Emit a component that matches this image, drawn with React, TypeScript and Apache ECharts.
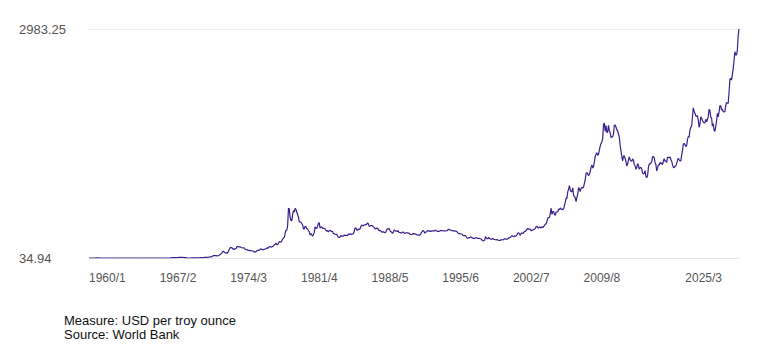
import React, { useEffect, useRef } from "react";
import * as echarts from "echarts";

// Monthly gold price, USD per troy ounce (World Bank), 1960/1 .. 2025/3
const START_YEAR = 1960;
const goldPrice: number[] = [
  // 1960
  35.09, 35.08, 35.1, 35.11, 35.11, 35.12, 35.15, 35.23, 35.67, 37.5, 36.45, 35.72,
  // 1961
  35.33, 35.24, 35.18, 35.1, 35.07, 35.1, 35.11, 35.15, 35.14, 35.1, 35.1, 35.08,
  // 1962
  35.08, 35.1, 35.12, 35.13, 35.14, 35.1, 35.08, 35.08, 35.1, 35.2, 35.18, 35.12,
  // 1963
  35.07, 35.07, 35.08, 35.08, 35.08, 35.08, 35.09, 35.09, 35.08, 35.08, 35.08, 35.09,
  // 1964
  35.09, 35.08, 35.09, 35.1, 35.1, 35.09, 35.1, 35.09, 35.1, 35.1, 35.12, 35.16,
  // 1965
  35.13, 35.15, 35.18, 35.17, 35.12, 35.11, 35.11, 35.15, 35.12, 35.11, 35.14, 35.14,
  // 1966
  35.12, 35.11, 35.11, 35.13, 35.16, 35.18, 35.17, 35.16, 35.16, 35.16, 35.16, 35.17,
  // 1967
  35.13, 35.12, 35.1, 35.11, 35.13, 35.17, 35.16, 35.17, 35.16, 35.19, 35.2, 35.19,
  // 1968
  35.2, 35.21, 38.0, 37.7, 41.0, 41.1, 39.5, 39.3, 39.6, 39.5, 40.0, 41.1,
  // 1969
  42.4, 42.6, 43.2, 43.3, 43.5, 41.4, 41.8, 41.0, 40.9, 40.4, 37.4, 35.2,
  // 1970
  34.94, 35.0, 35.1, 35.9, 35.5, 35.4, 35.3, 35.4, 36.2, 37.5, 37.4, 37.4,
  // 1971
  37.9, 38.7, 38.9, 39.0, 40.5, 40.1, 41.0, 42.7, 42.0, 42.5, 42.9, 43.6,
  // 1972
  45.8, 48.3, 48.3, 49.0, 54.6, 62.1, 65.7, 67.0, 65.5, 64.9, 62.9, 63.9,
  // 1973
  65.1, 74.2, 84.4, 90.5, 102.0, 120.1, 120.2, 106.8, 103.0, 100.1, 94.8, 106.7,
  // 1974
  129.2, 150.2, 168.4, 172.2, 163.3, 154.1, 142.9, 154.6, 151.8, 158.8, 181.7, 183.9,
  // 1975
  176.3, 179.6, 178.2, 170.0, 167.0, 164.2, 165.2, 163.1, 144.1, 142.8, 142.8, 139.3,
  // 1976
  131.6, 131.0, 132.6, 128.1, 126.6, 125.4, 117.6, 109.9, 114.0, 116.0, 130.0, 133.4,
  // 1977
  132.3, 136.4, 148.3, 149.2, 146.9, 141.0, 143.4, 144.9, 149.9, 158.6, 162.6, 160.5,
  // 1978
  173.2, 178.2, 183.7, 175.1, 176.3, 183.7, 188.8, 206.0, 212.9, 227.3, 206.0, 207.8,
  // 1979
  227.3, 245.7, 242.0, 239.2, 257.6, 279.1, 294.4, 300.8, 355.1, 391.7, 392.5, 455.1,
  // 1980
  675.3, 665.3, 554.0, 517.4, 513.8, 600.7, 644.3, 627.2, 674.6, 661.2, 623.5, 594.9,
  // 1981
  557.0, 500.0, 498.0, 495.0, 480.0, 460.0, 409.0, 410.0, 443.0, 437.0, 413.0, 410.0,
  // 1982
  384.0, 374.0, 330.0, 350.0, 334.0, 315.0, 339.0, 364.0, 435.0, 422.0, 415.0, 444.0,
  // 1983
  481.0, 491.0, 420.0, 432.0, 438.0, 413.0, 422.0, 416.0, 412.0, 394.0, 382.0, 388.0,
  // 1984
  370.0, 386.0, 394.0, 381.0, 377.0, 378.0, 348.0, 348.0, 341.0, 340.0, 341.0, 320.0,
  // 1985
  303.0, 299.0, 304.0, 325.0, 316.0, 317.0, 317.0, 329.0, 324.0, 326.0, 325.0, 321.0,
  // 1986
  345.0, 339.0, 346.0, 340.0, 342.0, 343.0, 348.0, 376.0, 418.0, 423.0, 398.0, 391.0,
  // 1987
  408.0, 401.0, 409.0, 438.0, 460.0, 450.0, 450.0, 461.0, 460.0, 465.0, 468.0, 487.0,
  // 1988
  477.0, 442.0, 444.0, 452.0, 451.0, 451.0, 437.0, 431.0, 413.0, 407.0, 420.0, 419.0,
  // 1989
  404.0, 388.0, 390.0, 385.0, 371.0, 367.0, 375.0, 365.0, 362.0, 367.0, 394.0, 409.0,
  // 1990
  410.0, 416.0, 393.0, 374.0, 369.0, 352.0, 362.0, 395.0, 389.0, 381.0, 381.0, 378.0,
  // 1991
  384.0, 364.0, 363.0, 358.0, 357.0, 367.0, 368.0, 356.0, 349.0, 359.0, 360.0, 361.0,
  // 1992
  354.0, 354.0, 345.0, 338.0, 337.0, 341.0, 353.0, 343.0, 345.0, 344.0, 335.0, 334.0,
  // 1993
  329.0, 330.0, 330.0, 342.0, 367.0, 372.0, 392.0, 378.0, 355.0, 364.0, 374.0, 383.0,
  // 1994
  387.0, 382.0, 384.0, 378.0, 381.0, 386.0, 385.0, 380.0, 392.0, 390.0, 384.0, 379.0,
  // 1995
  379.0, 377.0, 382.0, 391.0, 385.0, 387.0, 386.0, 383.0, 383.0, 383.0, 386.0, 387.0,
  // 1996
  400.0, 405.0, 396.0, 393.0, 392.0, 385.0, 383.0, 387.0, 383.0, 381.0, 378.0, 369.0,
  // 1997
  355.0, 347.0, 352.0, 344.0, 344.0, 341.0, 324.0, 324.0, 323.0, 325.0, 306.0, 289.0,
  // 1998
  289.0, 297.0, 296.0, 308.0, 299.0, 292.0, 293.0, 284.0, 289.0, 296.0, 294.0, 291.0,
  // 1999
  287.0, 287.0, 286.0, 282.0, 277.0, 261.0, 256.0, 257.0, 265.0, 311.0, 293.0, 283.0,
  // 2000
  284.0, 300.0, 286.0, 280.0, 275.0, 285.0, 282.0, 275.0, 273.0, 270.0, 266.0, 272.0,
  // 2001
  266.0, 262.0, 263.0, 261.0, 272.0, 270.0, 268.0, 273.0, 283.0, 283.0, 276.0, 275.0,
  // 2002
  282.0, 296.0, 294.0, 302.0, 314.0, 322.0, 314.0, 310.0, 319.0, 317.0, 319.0, 333.0,
  // 2003
  357.0, 359.0, 340.0, 328.0, 355.0, 356.0, 351.0, 360.0, 379.0, 379.0, 390.0, 407.0,
  // 2004
  414.0, 405.0, 406.0, 404.0, 384.0, 392.0, 398.0, 400.0, 406.0, 420.0, 439.0, 442.0,
  // 2005
  424.0, 423.0, 434.0, 429.0, 423.0, 437.0, 425.0, 438.0, 456.0, 470.0, 476.0, 510.0,
  // 2006
  549.0, 555.0, 557.0, 610.0, 676.0, 596.0, 633.0, 632.0, 598.0, 585.0, 627.0, 629.0,
  // 2007
  631.0, 665.0, 655.0, 679.0, 667.0, 655.0, 665.0, 665.0, 712.0, 754.0, 806.0, 803.0,
  // 2008
  889.0, 922.0, 968.0, 909.0, 888.0, 889.0, 939.0, 839.0, 829.0, 806.0, 760.0, 816.0,
  // 2009
  858.0, 943.0, 924.0, 890.0, 928.0, 946.0, 934.0, 949.0, 996.0, 1043.0, 1127.0, 1134.0,
  // 2010
  1118.0, 1095.0, 1113.0, 1148.0, 1205.0, 1232.0, 1193.0, 1215.0, 1271.0, 1343.0, 1370.0, 1391.0,
  // 2011
  1356.0, 1372.0, 1424.0, 1474.0, 1510.0, 1529.0, 1572.0, 1756.0, 1772.0, 1666.0, 1739.0, 1652.0,
  // 2012
  1656.0, 1742.0, 1674.0, 1650.0, 1585.0, 1596.0, 1594.0, 1630.0, 1744.0, 1747.0, 1721.0, 1688.0,
  // 2013
  1671.0, 1628.0, 1593.0, 1487.0, 1414.0, 1343.0, 1286.0, 1347.0, 1349.0, 1316.0, 1275.0, 1221.0,
  // 2014
  1244.0, 1300.0, 1336.0, 1299.0, 1287.0, 1279.0, 1311.0, 1296.0, 1239.0, 1222.0, 1176.0, 1200.0,
  // 2015
  1251.0, 1227.0, 1179.0, 1198.0, 1199.0, 1181.0, 1128.0, 1117.0, 1125.0, 1159.0, 1086.0, 1068.0,
  // 2016
  1097.0, 1199.0, 1246.0, 1242.0, 1260.0, 1276.0, 1337.0, 1341.0, 1326.0, 1266.0, 1238.0, 1157.0,
  // 2017
  1192.0, 1234.0, 1231.0, 1266.0, 1246.0, 1260.0, 1237.0, 1283.0, 1314.0, 1280.0, 1283.0, 1265.0,
  // 2018
  1331.0, 1331.0, 1325.0, 1335.0, 1303.0, 1282.0, 1238.0, 1202.0, 1198.0, 1215.0, 1221.0, 1250.0,
  // 2019
  1291.0, 1320.0, 1300.0, 1286.0, 1284.0, 1359.0, 1413.0, 1500.0, 1510.0, 1495.0, 1471.0, 1480.0,
  // 2020
  1560.0, 1597.0, 1592.0, 1683.0, 1716.0, 1732.0, 1847.0, 1968.0, 1922.0, 1900.0, 1866.0, 1858.0,
  // 2021
  1867.0, 1808.0, 1718.0, 1760.0, 1851.0, 1834.0, 1807.0, 1785.0, 1775.0, 1777.0, 1821.0, 1790.0,
  // 2022
  1817.0, 1856.0, 1948.0, 1937.0, 1849.0, 1837.0, 1733.0, 1765.0, 1681.0, 1664.0, 1726.0, 1798.0,
  // 2023
  1898.0, 1853.0, 1912.0, 1999.0, 1992.0, 1943.0, 1951.0, 1918.0, 1916.0, 1918.0, 1993.0, 2034.0,
  // 2024
  2033.0, 2024.0, 2160.0, 2331.0, 2349.0, 2326.0, 2399.0, 2471.0, 2571.0, 2691.0, 2651.0, 2648.0,
  // 2025
  2709.0, 2895.0, 2983.25,
];

// Category labels "YYYY/M", one per month
const months: string[] = goldPrice.map((_, i) => `${START_YEAR + Math.floor(i / 12)}/${(i % 12) + 1}`);
// Indices of labelled ticks on the bottom axis
const shownLabelIdx: number[] = [0, 85, 170, 255, 340, 425, 510, 595];

const measureText = "Measure: USD per troy ounce";
const sourceText = "Source: World Bank";

const FONT = "Arial, 'Liberation Sans', sans-serif";

export default function App() {
  const ref = useRef<HTMLDivElement>(null);

  useEffect(() => {
    if (!ref.current) return;
    const chart = echarts.init(ref.current, null, { renderer: "svg" });
    const minV = Math.min(...goldPrice);
    const maxV = Math.max(...goldPrice);
    const last = months.length - 1;

    chart.setOption({
      animation: false,
      backgroundColor: "#ffffff",
      title: {
        text: `${measureText}\n${sourceText}`,
        left: 59,
        top: 308,
        textStyle: {
          fontFamily: FONT,
          fontSize: 13,
          fontWeight: "normal",
          color: "#111",
          lineHeight: 14,
        },
      },
      grid: { left: 89, right: 28, top: 29, bottom: 96 },
      xAxis: [
        {
          type: "category",
          data: months,
          boundaryGap: false,
          axisLine: { show: true, lineStyle: { color: "#e6e6e6", width: 1 } },
          axisTick: { show: false },
          splitLine: { show: false },
          axisLabel: {
            interval: (idx: number) => shownLabelIdx.includes(idx),
            align: "left",
            margin: 14,
            fontFamily: FONT,
            fontSize: 12,
            color: "#555",
          },
        },
        {
          type: "category",
          data: months,
          boundaryGap: false,
          position: "bottom",
          axisLine: { show: false },
          axisTick: { show: false },
          splitLine: { show: false },
          axisLabel: {
            interval: (idx: number) => idx === last,
            showMaxLabel: true,
            align: "right",
            padding: [0, 17, 0, 0],
            margin: 14,
            fontFamily: FONT,
            fontSize: 12,
            color: "#555",
          },
        },
        {
          type: "category",
          data: months,
          boundaryGap: false,
          position: "top",
          axisLine: { show: true, lineStyle: { color: "#ececec", width: 1 } },
          axisTick: { show: false },
          axisLabel: { show: false },
          splitLine: { show: false },
        },
      ],
      yAxis: {
        type: "value",
        min: minV,
        max: maxV,
        axisLine: { show: false },
        axisTick: { show: false },
        splitLine: { show: false },
        axisLabel: {
          showMinLabel: true,
          showMaxLabel: true,
          align: "left",
          margin: 70,
          fontFamily: FONT,
          fontSize: 13,
          color: "#555",
          formatter: (v: number) =>
            Math.abs(v - minV) < 1e-6 ? String(minV) : Math.abs(v - maxV) < 1e-6 ? String(maxV) : "",
        },
      },
      series: [
        {
          type: "line",
          data: goldPrice,
          xAxisIndex: 0,
          yAxisIndex: 0,
          showSymbol: false,
          symbol: "none",
          lineStyle: { color: "#3b1e8c", width: 1.2 },
          itemStyle: { color: "#3b1e8c" },
        },
      ],
    });

    return () => chart.dispose();
  }, []);

  return (
    <div
      ref={ref}
      style={{ position: "fixed", left: 0, top: 0, width: 767, height: 354, background: "#fff" }}
    />
  );
}
